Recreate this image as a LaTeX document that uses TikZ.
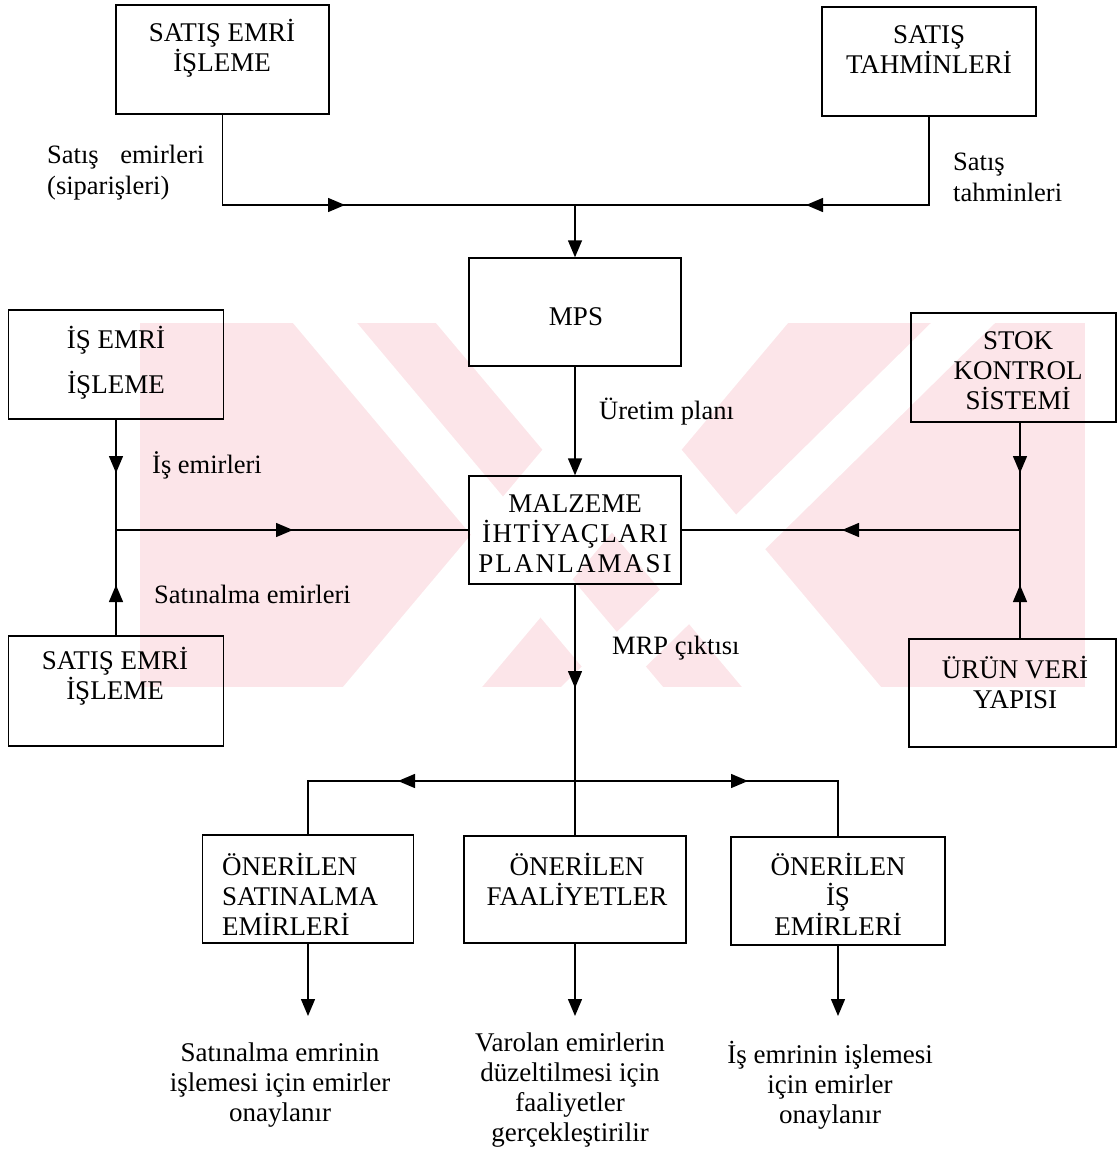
\documentclass[tikz,border=0pt]{standalone}
\usepackage{fontspec}
\setmainfont{Liberation Serif}
\usetikzlibrary{arrows.meta}
\definecolor{wmpink}{RGB}{252,229,233}
\tikzset{
  box/.style={draw, line width=1.4pt, inner sep=0pt},
  txt/.style={font=\fontsize{27}{30}\selectfont, align=center, inner sep=0pt},
  lbl/.style={font=\fontsize{26.5}{31}\selectfont, align=left, inner sep=0pt, anchor=west},
  conn/.style={line width=1.4pt},
  tip/.style={line width=1.4pt, -{Triangle[length=17pt,width=14pt]}},
}
\begin{document}
\begin{tikzpicture}[x=1pt,y=-1pt]
\useasboundingbox (0,0) rectangle (1117,1156);

% watermark (approximate)
\begin{scope}
  \clip (140,323) rectangle (1085,687);
  \fill[wmpink] (140,323) rectangle (1085,687);
  \fill[white] (293,323) -- (357,323) -- (663,687) -- (599,687) -- cycle;
  \fill[white] (343,687) -- (482,687) -- (788,323) -- (649,323) -- cycle;
  \fill[white] (931,323) -- (995,323) -- (625,687) -- (561,687) -- cycle;
  \fill[white] (742,687) -- (881,687) -- (575,323) -- (436,323) -- cycle;
\end{scope}

% boxes
\node[box, fill=white, minimum width=213pt, minimum height=109pt] (b1) at (222.5,59.5) {};
\node[box, fill=white, minimum width=214pt, minimum height=109pt] (b2) at (929,61.5) {};
\node[box, fill=white, minimum width=212pt, minimum height=108pt] (mps) at (575,312) {};
\node[box, minimum width=215pt, minimum height=109pt] (b3) at (116,364.5) {};
\node[box, minimum width=215pt, minimum height=110pt] (b4) at (116,691) {};
\node[box, minimum width=212pt, minimum height=108pt] (mrp) at (575,530) {};
\node[box, minimum width=205pt, minimum height=109pt] (stok) at (1013.5,367.5) {};
\node[box, minimum width=207pt, minimum height=108pt] (urun) at (1012.5,693) {};
\node[box, minimum width=211pt, minimum height=108pt] (bA) at (308,889) {};
\node[box, minimum width=222pt, minimum height=107pt] (bB) at (575,889.5) {};
\node[box, minimum width=214pt, minimum height=108pt] (bC) at (838,891) {};

% box texts
\node[txt] (t1) at (222,48) {SATIŞ EMRİ\\İŞLEME};
\node[txt] (t2) at (929,50) {SATIŞ\\TAHMİNLERİ};
\node[txt] (tmps) at (576,317) {MPS};
\node[txt] (t3) at (116,362.5) {İŞ EMRİ\\[15pt]İŞLEME};
\node[txt] (t4) at (115,676) {SATIŞ EMRİ\\İŞLEME};
\node[txt] (tmrp) at (575,534) {MALZEME\\{\addfontfeature{LetterSpace=5.5}İHTİYAÇLARI}\\{\addfontfeature{LetterSpace=8}PLANLAMASI}};
\node[txt] (tstok) at (1018,371) {STOK\\KONTROL\\SİSTEMİ};
\node[txt] (turun) at (1015,682) {ÜRÜN VERİ\\YAPISI};
\node[txt, align=left, anchor=west] (tA) at (222,894) {ÖNERİLEN\\SATINALMA\\EMİRLERİ};
\node[txt] (tB) at (577,879) {ÖNERİLEN\\FAALİYETLER};
\node[txt] (tC) at (838,894) {ÖNERİLEN\\İŞ\\EMİRLERİ};

% labels
\node[lbl] (l1) at (47,173) {\makebox[157pt][s]{Satış emirleri}\\(siparişleri)};
\node[lbl] (l2) at (953,177) {Satış\\tahminleri};
\node[lbl] (l3) at (152,465) {İş emirleri};
\node[lbl] (l4) at (154,594) {Satınalma emirleri};
\node[lbl] (l5) at (599,412) {Üretim planı};
\node[lbl] (l6) at (612,648) {MRP çıktısı};

% bottom texts
\node[txt] (o1t) at (280,1085) {Satınalma emrinin\\işlemesi için emirler\\onaylanır};
\node[txt] (o2t) at (570,1090) {Varolan emirlerin\\düzeltilmesi için\\faaliyetler\\gerçekleştirilir};
\node[txt] (o3t) at (830,1085) {İş emrinin işlemesi\\için emirler\\onaylanır};

% coordinates
\coordinate (j1) at (575,205);
\coordinate (a1) at (345,205);
\coordinate (a2) at (806,205);
\coordinate (j2) at (116,530);
\coordinate (a3) at (116,473);
\coordinate (a4) at (116,585);
\coordinate (a5) at (293,530);
\coordinate (j3) at (1020,530);
\coordinate (a6) at (1020,473);
\coordinate (a7) at (1020,585);
\coordinate (a8) at (842,530);
\coordinate (j4) at (575,781);
\coordinate (a9) at (575,688);
\coordinate (a10) at (398,781);
\coordinate (a11) at (748,781);
\coordinate (o1) at (308,1016);
\coordinate (o2) at (575,1016);
\coordinate (o3) at (838,1016);

% top inputs
\draw[conn] (b1.south) |- (j1);
\draw[tip] (b1.south) |- (a1);
\draw[conn] (b2.south) |- (j1);
\draw[tip] (b2.south) |- (a2);
\draw[tip] (j1) -- (mps.north);
\draw[tip] (mps.south) -- (mrp.north);

% left side
\draw[conn] (b3.south) -- (b4.north);
\draw[tip] (b3.south) -- (a3);
\draw[tip] (b4.north) -- (a4);
\draw[conn] (j2) -- (mrp.west);
\draw[tip] (j2) -- (a5);

% right side
\draw[conn] (j3 |- stok.south) -- (j3 |- urun.north);
\draw[tip] (j3 |- stok.south) -- (a6);
\draw[tip] (j3 |- urun.north) -- (a7);
\draw[conn] (j3) -- (mrp.east);
\draw[tip] (j3) -- (a8);

% MRP output
\draw[conn] (mrp.south) -- (j4);
\draw[tip] (mrp.south) -- (a9);
\draw[conn] (bA.north) -- (bA.north |- j4) -- (bC.north |- j4) -- (bC.north);
\draw[conn] (j4) -- (bB.north);
\draw[tip] (j4) -- (a10);
\draw[tip] (j4) -- (a11);

% outputs
\draw[tip] (bA.south) -- (o1);
\draw[tip] (bB.south) -- (o2);
\draw[tip] (bC.south) -- (o3);
\end{tikzpicture}
\end{document}
